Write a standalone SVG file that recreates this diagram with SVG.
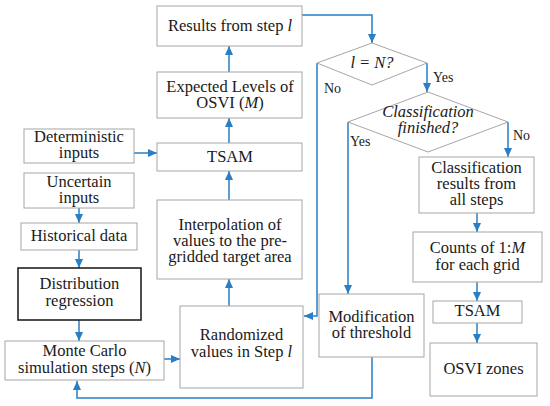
<svg xmlns="http://www.w3.org/2000/svg" width="550" height="406" viewBox="0 0 550 406" font-family="'Liberation Serif', 'Times New Roman', Times, serif">
<style>
.b{fill:#fff;stroke:#a6a6a6;stroke-width:1}
.k{fill:#fff;stroke:#222;stroke-width:1.6}
text{font-family:'Liberation Serif','Times New Roman',Times,serif;font-size:16.5px;fill:#1a1a1a;text-anchor:middle}
.s{font-size:14px;text-anchor:start}
.i{font-style:italic}
.c{fill:none;stroke:#2a7ec3;stroke-width:1.5}
</style>
<defs>
<marker id="a" markerUnits="userSpaceOnUse" markerWidth="10" markerHeight="10" viewBox="0 0 10 10" refX="9" refY="5" orient="auto">
<path d="M0,1 L9,5 L0,9 Z" fill="#2a7ec3"/>
</marker>
</defs>
<rect width="550" height="406" fill="#fff"/>
<g id="connectors">
<path class="c" d="M302,15 H372 V43" marker-end="url(#a)"/>
<path class="c" d="M427,63 V92" marker-end="url(#a)"/>
<path class="c" d="M317,63 V316 H304" marker-end="url(#a)"/>
<path class="c" d="M348,122 V294" marker-end="url(#a)"/>
<path class="c" d="M508,122 V157" marker-end="url(#a)"/>
<path class="c" d="M477,213 V232" marker-end="url(#a)"/>
<path class="c" d="M477,282 V301" marker-end="url(#a)"/>
<path class="c" d="M477,323 V343" marker-end="url(#a)"/>
<path class="c" d="M372,357 V398 H77 V381" marker-end="url(#a)"/>
<path class="c" d="M164,359 H180" marker-end="url(#a)"/>
<path class="c" d="M229,306 V279" marker-end="url(#a)"/>
<path class="c" d="M229,200 V171" marker-end="url(#a)"/>
<path class="c" d="M229,143 V118" marker-end="url(#a)"/>
<path class="c" d="M229,72 V46" marker-end="url(#a)"/>
<path class="c" d="M134,153 H157" marker-end="url(#a)"/>
<path class="c" d="M79,208 V223" marker-end="url(#a)"/>
<path class="c" d="M79,250 V268" marker-end="url(#a)"/>
<path class="c" d="M79,320 V341" marker-end="url(#a)"/>
<text class="s" x="324" y="93">No</text>
<text class="s" x="433" y="82">Yes</text>
<text class="s" x="350" y="146">Yes</text>
<text class="s" x="513" y="140">No</text>
</g>
<g id="results">
<rect class="b" x="157" y="6" width="145" height="40"/>
<text x="230" y="31">Results from step <tspan class="i">l</tspan></text>
</g>
<g id="expected">
<rect class="b" x="157" y="72" width="145" height="46"/>
<text x="230" y="92">Expected Levels of</text>
<text x="230" y="108">OSVI (<tspan class="i">M</tspan>)</text>
</g>
<g id="tsam1">
<rect class="b" x="157" y="143" width="145" height="28"/>
<text x="230" y="162">TSAM</text>
</g>
<g id="interpolation">
<rect class="b" x="157" y="200" width="145" height="79"/>
<text x="230" y="230">Interpolation of</text>
<text x="230" y="246">values to the pre-</text>
<text x="230" y="262">gridded target area</text>
</g>
<g id="randomized">
<rect class="b" x="180" y="306" width="123" height="82"/>
<text x="241.5" y="340">Randomized</text>
<text x="241.5" y="357">values in Step <tspan class="i">l</tspan></text>
</g>
<g id="deterministic">
<rect class="b" x="24" y="129" width="110" height="34"/>
<text x="79" y="142">Deterministic</text>
<text x="79" y="158">inputs</text>
</g>
<g id="uncertain">
<rect class="b" x="24" y="173" width="110" height="35"/>
<text x="79" y="187">Uncertain</text>
<text x="79" y="203">inputs</text>
</g>
<g id="historical">
<rect class="b" x="21" y="223" width="116" height="27"/>
<text x="79" y="241">Historical data</text>
</g>
<g id="distribution">
<rect class="k" x="18" y="268" width="123" height="52"/>
<text x="79.5" y="289">Distribution</text>
<text x="79.5" y="306">regression</text>
</g>
<g id="montecarlo">
<rect class="b" x="5" y="341" width="159" height="39"/>
<text x="84.5" y="356">Monte Carlo</text>
<text x="84.5" y="373">simulation steps (<tspan class="i">N</tspan>)</text>
</g>
<g id="decision1">
<path class="b" d="M372,43 L427,63 L372,85 L317,63 Z"/>
<text x="372" y="68" class="i">l = N?</text>
</g>
<g id="decision2">
<path class="b" d="M428,92 L508,122 L428,152 L348,122 Z"/>
<text x="428" y="117" class="i">Classification</text>
<text x="428" y="133" class="i">finished?</text>
</g>
<g id="modification">
<rect class="b" x="319" y="294" width="105" height="63"/>
<text x="371.5" y="322">Modification</text>
<text x="371.5" y="338">of threshold</text>
</g>
<g id="classresults">
<rect class="b" x="419" y="157" width="115" height="56"/>
<text x="476.5" y="173">Classification</text>
<text x="476.5" y="189">results from</text>
<text x="476.5" y="205">all steps</text>
</g>
<g id="counts">
<rect class="b" x="413" y="232" width="129" height="50"/>
<text x="477.5" y="253">Counts of 1:<tspan class="i">M</tspan></text>
<text x="477.5" y="270">for each grid</text>
</g>
<g id="tsam2">
<rect class="b" x="433" y="301" width="89" height="22"/>
<text x="477.5" y="316">TSAM</text>
</g>
<g id="zones">
<rect class="b" x="430" y="343" width="107" height="53"/>
<text x="483.5" y="374">OSVI zones</text>
</g>
</svg>
